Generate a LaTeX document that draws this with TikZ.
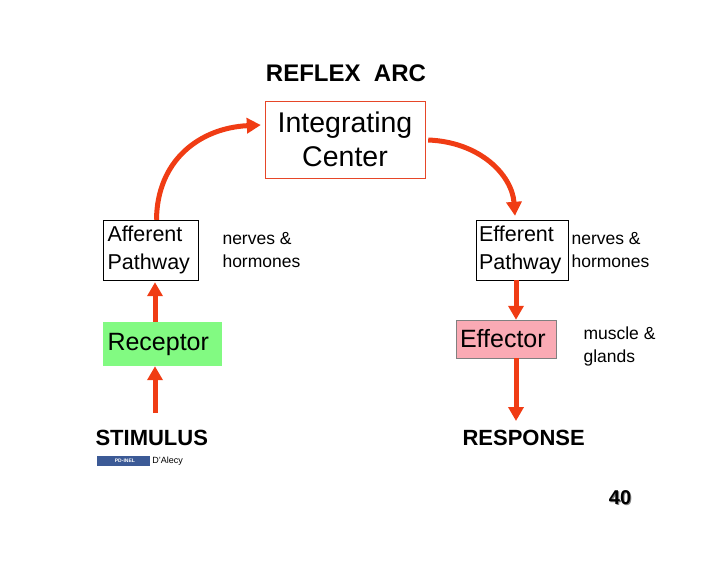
\documentclass[tikz,border=0pt]{standalone}
\usepackage{fontspec}
\setmainfont{Liberation Sans}
\usetikzlibrary{arrows.meta}
\begin{document}
\begin{tikzpicture}[x=1pt,y=-1pt,
  arr/.style={line width=5pt,draw={rgb,255:red,240;green,60;blue,20},-{Triangle[length=14pt,width=15pt]}},
  side/.style={font=\fontsize{17.5}{23}\selectfont,align=left,anchor=west},
  big/.style={font=\fontsize{22}{26}\selectfont\bfseries,anchor=west}]
\useasboundingbox (0,0) rectangle (728,563);
\definecolor{rd}{RGB}{230,70,40}
\node (title) at (346,73) {\fontsize{24}{28}\selectfont\bfseries REFLEX\ \ ARC};
\node[draw=rd,fill=white,minimum width=160pt,minimum height=77pt,align=center,font=\fontsize{28.5}{34}\selectfont] (ic) at (345,139.5) {Integrating\\Center};
\node[draw,minimum width=95pt,minimum height=60pt,text width=86pt,align=left,inner sep=4.5pt,font=\fontsize{21.5}{28}\selectfont] (aff) at (150.5,250) {Afferent\\Pathway};
\node[fill={rgb,255:red,130;green,250;blue,130},minimum width=119pt,minimum height=44pt,text width=110pt,align=left,inner sep=4.5pt,font=\fontsize{25}{28}\selectfont] (rec) at (162.5,344) {Receptor};
\node[draw,minimum width=92pt,minimum height=60pt,text width=86pt,align=left,inner sep=3pt,font=\fontsize{21.5}{28}\selectfont] (eff) at (522,250) {Efferent\\Pathway};
\node[draw=gray,fill={rgb,255:red,250;green,170;blue,180},minimum width=100pt,minimum height=38pt,text width=92pt,align=left,inner sep=4pt,font=\fontsize{25}{28}\selectfont] (efr) at (506,339) {Effector};
\node[side] (n1) at (219,250) {nerves \&\\hormones};
\node[side] (n2) at (568,250) {nerves \&\\hormones};
\node[side] (n3) at (580,346) {muscle \&\\glands};
\node[big] (stim) at (92,438) {STIMULUS};
\node[big] (resp) at (459,438) {RESPONSE};
\coordinate (s0) at (155,413);
\coordinate (r1) at (516,421);
\draw[arr] (s0) -- (rec.south -| s0);
\draw[arr] (rec.north -| s0) -- ([yshift=-2pt]aff.south -| s0);
\draw[arr] (eff.south -| r1) -- (efr.north -| r1);
\draw[arr] (efr.south -| r1) -- (r1);
\draw[arr] ([xshift=6pt]aff.north) .. controls (157,160) and (200,128) .. ([xshift=-4pt]ic.west |- 0,125);
\draw[arr] ([xshift=3pt]ic.east |- 0,140) .. controls (480,142) and (512,175) .. ([yshift=4pt]eff.north -| 515,0);
\node[fill={rgb,255:red,60;green,90;blue,150},minimum width=53pt,minimum height=10pt,inner sep=0pt,font=\fontsize{5}{6}\selectfont\bfseries,text=white] (logo) at (123.5,461) {\ \ PD-INEL};
\node[anchor=west,font=\fontsize{9}{10}\selectfont,inner sep=2pt] (dal) at (logo.east) {D'Alecy};
\node[font=\fontsize{20}{24}\selectfont\bfseries] (num) at (620,498) {\rlap{\kern1.2pt\raisebox{-1.2pt}{\color{gray}40}}40};
\end{tikzpicture}
\end{document}
